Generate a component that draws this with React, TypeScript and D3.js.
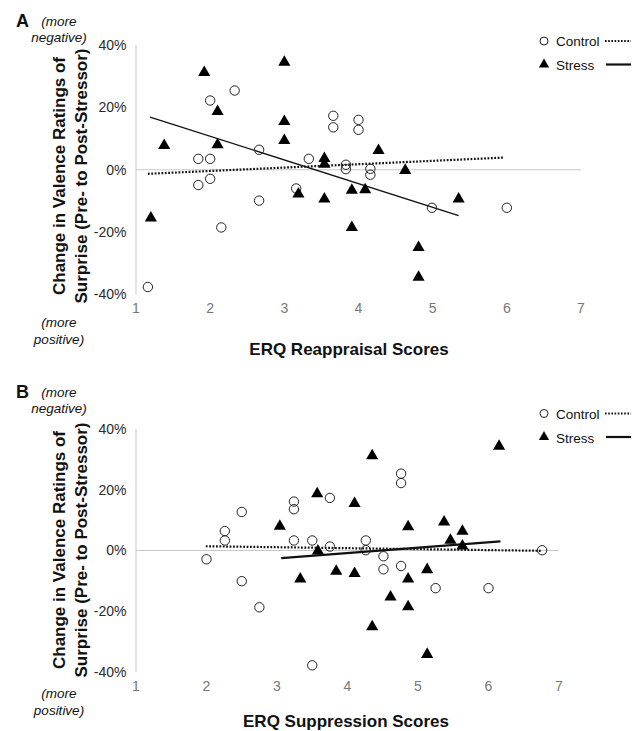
import React from "react";
import * as d3 from "d3";

// ---------- DATA ----------
const xTicks = [1, 2, 3, 4, 5, 6, 7];
const yTicks = [-40, -20, 0, 20, 40];

// Panel A: ERQ Reappraisal
const reappControl: [number, number][] = [
  [1.16, -37.6], [1.84, 3.5], [1.84, -4.9], [2.0, 22.2], [2.0, 3.5], [2.0, -2.9],
  [2.15, -18.5], [2.33, 25.4], [2.66, 6.4], [2.66, -9.9], [3.16, -6.0], [3.33, 3.5],
  [3.66, 17.3], [3.66, 13.6], [3.83, 1.6], [3.83, 0.2], [4.0, 16.0], [4.0, 12.8],
  [4.16, 0.3], [4.16, -1.6], [4.99, -12.2], [6.0, -12.2],
];
const reappStress: [number, number][] = [
  [1.2, -15.5], [1.38, 7.8], [1.92, 31.2], [2.1, 18.7], [2.1, 8.0], [3.0, 34.5],
  [3.0, 15.5], [3.0, 9.4], [3.19, -7.8], [3.54, 3.6], [3.54, 1.8], [3.54, -9.4],
  [3.91, -6.6], [3.91, -18.5], [4.09, -6.4], [4.27, 6.2], [4.63, -0.2],
  [4.81, -24.9], [4.81, -34.5], [5.35, -9.4],
];
const reappControlTrend: [number, number][] = [[1.16, -1.3], [5.96, 3.9]];
const reappStressTrend: [number, number][] = [[1.19, 16.9], [5.35, -14.7]];

// Panel B: ERQ Suppression
const suppControl: [number, number][] = [
  [2.0, -2.9], [2.26, 6.4], [2.26, 3.3], [2.5, 12.7], [2.5, -10.1], [2.75, -18.7],
  [3.24, 16.1], [3.24, 13.6], [3.24, 3.3], [3.5, 3.3], [3.5, -37.8], [3.75, 17.3],
  [3.75, 1.3], [4.26, 3.3], [4.26, 0.1], [4.51, -1.9], [4.51, -6.2], [4.76, 25.3],
  [4.76, 22.2], [4.76, -5.1], [5.25, -12.4], [6.0, -12.4], [6.76, 0.1],
];
const suppStress: [number, number][] = [
  [3.04, 8.0], [3.33, -9.4], [3.57, 18.7], [3.58, -0.2], [3.84, -6.8], [4.1, 15.5],
  [4.1, -7.6], [4.35, 31.2], [4.35, -25.1], [4.61, -15.3], [4.86, 7.8], [4.86, -9.4],
  [4.86, -18.5], [5.13, -6.3], [5.13, -34.2], [5.37, 9.4], [5.46, 3.4],
  [5.63, 6.3], [5.63, 1.5], [6.15, 34.3],
];
const suppControlTrend: [number, number][] = [[1.99, 1.4], [6.74, -0.1]];
const suppStressTrend: [number, number][] = [[3.06, -2.5], [6.17, 3.0]];

const legendLabels = ["Control", "Stress"];
const yTitleLines = ["Change in Valence Ratings of", "Surprise (Pre- to Post-Stressor)"];

// ---------- LAYOUT ----------
const FONT = "'Liberation Sans', Arial, Helvetica, sans-serif";

interface PanelCfg {
  letter: string;
  xTitle: string;
  control: [number, number][];
  stress: [number, number][];
  controlTrend: [number, number][];
  stressTrend: [number, number][];
  xRange: [number, number];
  yRange: [number, number];
  letterY: number;
  topNoteY: number;
  bottomNoteY: number;
  yTitleCenter: number;
  xTitleX: number;
  xTitleY: number;
  legendY: number;
  stressWidth: number;
}

const panels: PanelCfg[] = [
  {
    letter: "A",
    xTitle: "ERQ Reappraisal Scores",
    control: reappControl,
    stress: reappStress,
    controlTrend: reappControlTrend,
    stressTrend: reappStressTrend,
    xRange: [136, 581],
    yRange: [294.5, 45],
    letterY: 27,
    topNoteY: 26,
    bottomNoteY: 327,
    yTitleCenter: 176,
    xTitleX: 349,
    xTitleY: 355,
    legendY: 41,
    stressWidth: 1.4,
  },
  {
    letter: "B",
    xTitle: "ERQ Suppression Scores",
    control: suppControl,
    stress: suppStress,
    controlTrend: suppControlTrend,
    stressTrend: suppStressTrend,
    xRange: [136, 559],
    yRange: [672, 429],
    letterY: 398,
    topNoteY: 397,
    bottomNoteY: 698,
    yTitleCenter: 550,
    xTitleX: 346,
    xTitleY: 727,
    legendY: 413.5,
    stressWidth: 2.2,
  },
];

const triData = d3.symbol().type(d3.symbolTriangle).size(64)() as string;
const triLegend = d3.symbol().type(d3.symbolTriangle).size(46)() as string;

function Panel({ p }: { p: PanelCfg }) {
  const x = d3.scaleLinear().domain([1, 7]).range(p.xRange);
  const y = d3.scaleLinear().domain([-40, 40]).range(p.yRange);
  const line = d3
    .line<[number, number]>()
    .x((d) => x(d[0]))
    .y((d) => y(d[1]));
  const noteX = 59;
  return (
    <g>
      <text x={16} y={p.letterY} fontSize={18} fontWeight="bold" fill="#111">
        {p.letter}
      </text>
      <g fontStyle="italic" fontSize={13.5} fill="#111" textAnchor="middle">
        <text x={noteX} y={p.topNoteY}>(more</text>
        <text x={noteX} y={p.topNoteY + 16}>negative)</text>
        <text x={noteX} y={p.bottomNoteY}>(more</text>
        <text x={noteX} y={p.bottomNoteY + 17}>positive)</text>
      </g>
      {/* y title */}
      <g fontWeight="bold" fontSize={17} fill="#111" textAnchor="middle">
        {yTitleLines.map((t, i) => {
          const bx = 65 + i * 21.5;
          return (
            <text key={i} transform={`translate(${bx},${p.yTitleCenter}) rotate(-90)`}>
              {t}
            </text>
          );
        })}
      </g>
      {/* axis lines */}
      <line x1={x(1)} x2={x(1)} y1={y(40)} y2={y(-40)} stroke="#c8c8c8" strokeWidth={1} />
      <line x1={x(1)} x2={x(7)} y1={y(0)} y2={y(0)} stroke="#c8c8c8" strokeWidth={1} />
      {/* y ticks */}
      <g fontSize={14} fill="#2a2a2a" textAnchor="end">
        {yTicks.map((v) => (
          <text key={v} x={126.5} y={y(v) + 4.8}>
            {`${v}%`}
          </text>
        ))}
      </g>
      {/* x ticks */}
      <g fontSize={14} fill="#777" textAnchor="middle">
        {xTicks.map((v) => (
          <text key={v} x={x(v)} y={y(-40) + 18.5}>
            {v}
          </text>
        ))}
      </g>
      <text x={p.xTitleX} y={p.xTitleY} fontSize={17} fontWeight="bold" textAnchor="middle" fill="#111">
        {p.xTitle}
      </text>
      {/* trend lines */}
      <path d={line(p.controlTrend) || ""} fill="none" stroke="#111" strokeWidth={2.2} strokeDasharray="1.8 1.6" />
      <path d={line(p.stressTrend) || ""} fill="none" stroke="#111" strokeWidth={p.stressWidth} />
      {/* points */}
      {p.control.map((d, i) => (
        <circle key={"c" + i} cx={x(d[0])} cy={y(d[1])} r={4.7} fill="none" stroke="#222" strokeWidth={1} />
      ))}
      {p.stress.map((d, i) => (
        <path key={"s" + i} d={triData} transform={`translate(${x(d[0])},${y(d[1])})`} fill="#000" />
      ))}
      {/* legend */}
      <g fontSize={13.5} fill="#111">
        <circle cx={544} cy={p.legendY} r={4} fill="none" stroke="#222" strokeWidth={1} />
        <text x={556} y={p.legendY + 5}>{legendLabels[0]}</text>
        <line x1={605} x2={631} y1={p.legendY} y2={p.legendY} stroke="#111" strokeWidth={2} strokeDasharray="1.6 1.6" />
        <path d={triLegend} transform={`translate(544,${p.legendY + 23.5})`} fill="#000" />
        <text x={556} y={p.legendY + 29}>{legendLabels[1]}</text>
        <line x1={606} x2={631} y1={p.legendY + 23.5} y2={p.legendY + 23.5} stroke="#111" strokeWidth={2.2} />
      </g>
    </g>
  );
}

export default function App() {
  return (
    <svg
      width={638}
      height={731}
      style={{ position: "absolute", left: 0, top: 0, background: "#fff" }}
      fontFamily={FONT}
    >
      <rect width={638} height={731} fill="#fff" />
      {panels.map((p) => (
        <Panel key={p.letter} p={p} />
      ))}
    </svg>
  );
}
